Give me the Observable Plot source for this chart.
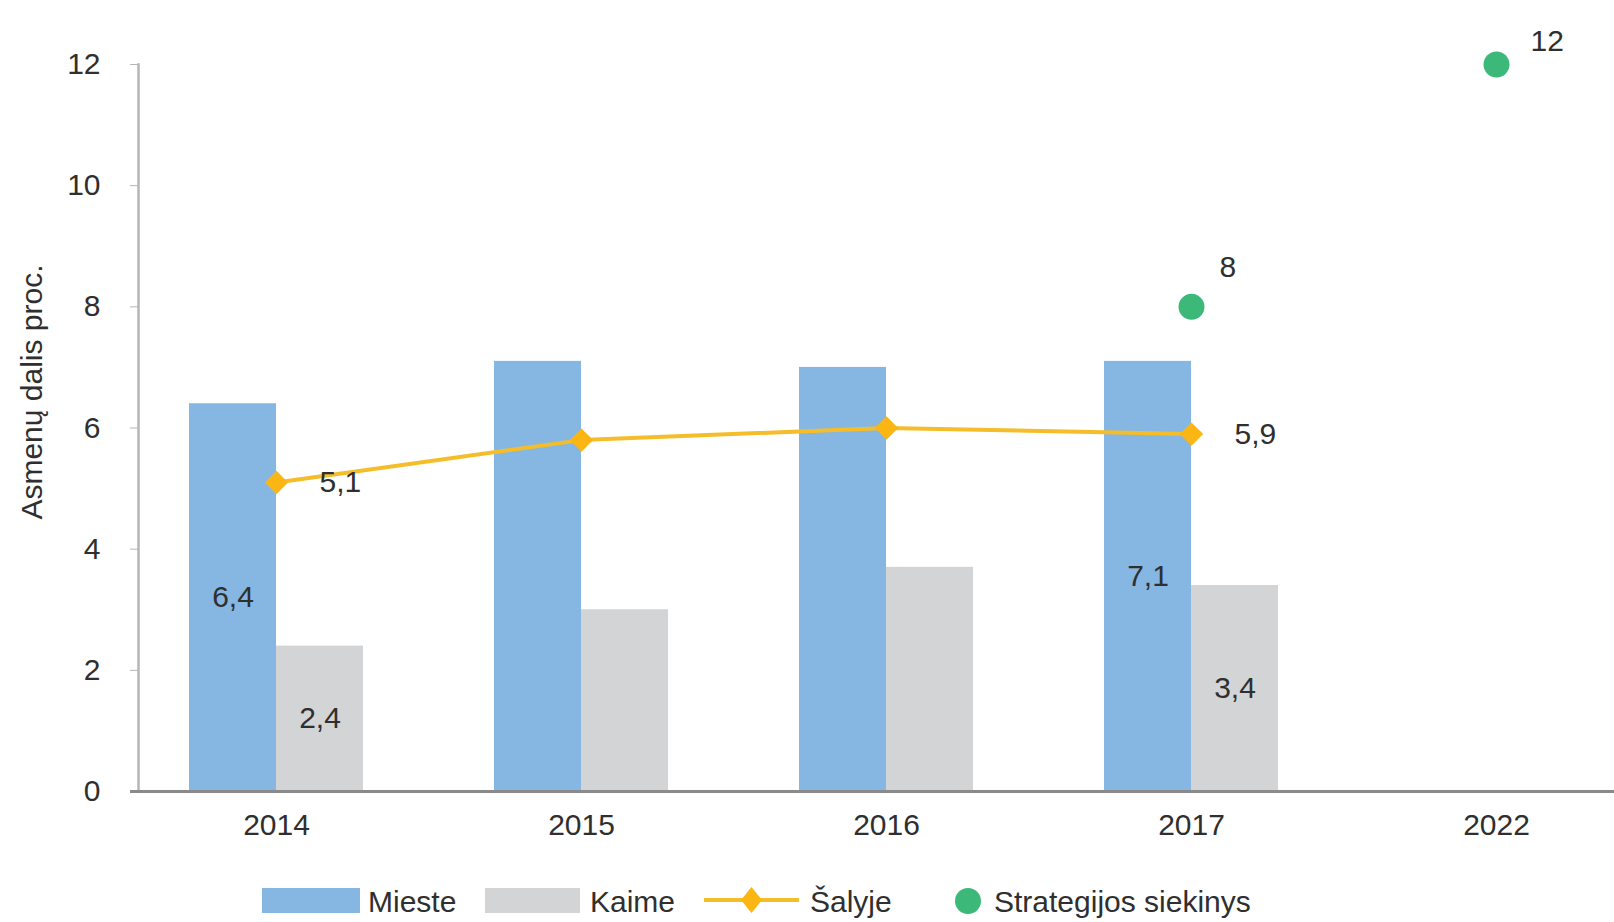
<!DOCTYPE html>
<html>
<head>
<meta charset="utf-8">
<script src="https://cdn.jsdelivr.net/npm/d3@7"></script>
<script src="https://cdn.jsdelivr.net/npm/@observablehq/plot@0.6"></script>
<style>
html, body { margin: 0; padding: 0; background: #fff; }
#wrap { position: relative; width: 1614px; height: 922px; font-family: "Liberation Sans", Arial, sans-serif; overflow: hidden; }
#chart { position: absolute; left: 0; top: 0; }
.lg { position: absolute; }
.lt { position: absolute; font-size: 30px; line-height: 30px; color: #2f2f2f; white-space: nowrap; }
</style>
</head>
<body>
<div id="wrap">
  <div id="chart"></div>
  <div id="legend"></div>
</div>
<script>
// ---- data ----
const years = ["2014", "2015", "2016", "2017", "2022"];
const barYears = ["2014", "2015", "2016", "2017"];
const mieste = [6.4, 7.1, 7.0, 7.1];
const kaime = [2.4, 3.0, 3.7, 3.4];
const salyje = [5.1, 5.8, 6.0, 5.9];
const targetYears = ["2017", "2022"];
const targets = [8, 12];
const labeledYears = ["2014", "2017"];
const yTicks = [0, 2, 4, 6, 8, 10, 12];
const yTitle = "Asmenų dalis proc.";
const seriesNames = ["Mieste", "Kaime", "Šalyje", "Strategijos siekinys"];

// ---- styling ----
const C_BLUE = "#86b6e2", C_GRAY = "#d3d4d6", C_LINE = "#f5bd2a", C_DIAM = "#fbb614", C_GREEN = "#3cb878", C_TEXT = "#2f2f2f";
const FONT = "'Liberation Sans', Arial, sans-serif";

const barData = barYears.map((y, i) => ({year: y, mieste: mieste[i], kaime: kaime[i], salyje: salyje[i]}));
const targetData = targetYears.map((y, i) => ({year: y, value: targets[i]}));
const lab = barData.filter(d => labeledYears.includes(d.year));
const fmt = v => String(v).replace(".", ",");

const chart = Plot.plot({
  width: 1614,
  height: 860,
  marginLeft: 138,
  marginRight: 0,
  marginTop: 64,
  marginBottom: 69,
  style: {fontFamily: FONT, fontSize: "30px", color: C_TEXT, background: "#fff", overflow: "visible"},
  x: {type: "band", domain: years, range: [54.9, 1716.5], padding: 0.431, label: null},
  y: {domain: [0, 12], label: null},
  marks: [
    Plot.barY(barData, {x: "year", y: "mieste", fill: C_BLUE, insetRight: 87}),
    Plot.barY(barData, {x: "year", y: "kaime", fill: C_GRAY, insetLeft: 87}),
    Plot.frame({anchor: "left", stroke: "#b5b5b5", strokeWidth: 2.5}),
    Plot.axisY({ticks: yTicks, tickSize: 8, tickPadding: 30, stroke: "#b5b5b5", fill: C_TEXT, label: null, tickFormat: d => String(d)}),
    Plot.ruleY([0], {stroke: "#8a8a8a", strokeWidth: 3, insetLeft: -8}),
    Plot.axisX({tickSize: 0, tickPadding: 22, fill: C_TEXT, label: null}),
    Plot.text([yTitle], {frameAnchor: "left", textAnchor: "middle", rotate: -90, dx: -106, dy: -36, fill: C_TEXT, fontSize: 30}),
    Plot.lineY(barData, {x: "year", y: "salyje", stroke: C_LINE, strokeWidth: 4}),
    Plot.dot(barData, {x: "year", y: "salyje", symbol: "diamond2", r: 10.5, fill: C_DIAM, stroke: null}),
    Plot.dot(targetData, {x: "year", y: "value", r: 13, fill: C_GREEN, stroke: null}),
    Plot.text(lab, {x: "year", y: d => d.mieste / 2, text: d => fmt(d.mieste), dx: -43.5, fill: C_TEXT}),
    Plot.text(lab, {x: "year", y: d => d.kaime / 2, text: d => fmt(d.kaime), dx: 43.5, fill: C_TEXT}),
    Plot.text(lab, {x: "year", y: "salyje", text: d => fmt(d.salyje), textAnchor: "start", dx: 43, fill: C_TEXT}),
    Plot.text(targetData.filter(d => d.year === "2017"), {x: "year", y: "value", text: d => fmt(d.value), textAnchor: "start", dx: 28, dy: -39, fill: C_TEXT}),
    Plot.text(targetData.filter(d => d.year === "2022"), {x: "year", y: "value", text: d => fmt(d.value), textAnchor: "start", dx: 34, dy: -23, fill: C_TEXT})
  ]
});
document.getElementById("chart").appendChild(chart);

// ---- legend (HTML below the SVG) ----
const lg = document.getElementById("legend");
function add(html) { lg.insertAdjacentHTML("beforeend", html); }
add(`<div class="lg" style="left:262px;top:888px;width:98px;height:25px;background:${C_BLUE}"></div>`);
add(`<div class="lt" style="left:368px;top:887px">${seriesNames[0]}</div>`);
add(`<div class="lg" style="left:485px;top:888px;width:95px;height:25px;background:${C_GRAY}"></div>`);
add(`<div class="lt" style="left:590px;top:887px">${seriesNames[1]}</div>`);
add(`<svg class="lg" style="left:704px;top:884px" width="95" height="32"><line x1="0" x2="95" y1="16" y2="16" stroke="${C_LINE}" stroke-width="4"/><path d="M47.5,3 L58,16 L47.5,29 L37,16 Z" fill="${C_DIAM}"/></svg>`);
add(`<div class="lt" style="left:810px;top:887px">${seriesNames[2]}</div>`);
add(`<svg class="lg" style="left:953px;top:886px" width="30" height="30"><circle cx="15" cy="15" r="13" fill="${C_GREEN}"/></svg>`);
add(`<div class="lt" style="left:994px;top:887px">${seriesNames[3]}</div>`);
</script>
</body>
</html>
